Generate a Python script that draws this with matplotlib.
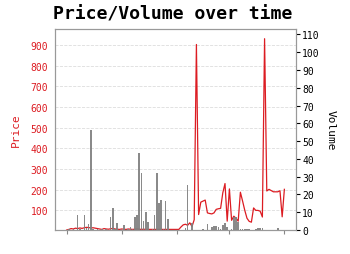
import numpy as np
import matplotlib
matplotlib.use('Agg')
import matplotlib.pyplot as plt

plt.rcParams['font.family'] = ['DejaVu Sans Mono']

price = [5, 8, 12, 10, 14, 12, 15, 13, 16, 18,
         17, 15, 16, 14, 12, 10, 8, 12, 10, 9,
         11, 13, 10, 9, 8, 10, 9, 8, 10, 9,
         8, 9, 10, 9, 8, 9, 8, 8, 8, 8,
         8, 8, 8, 8, 8, 8, 8, 8, 8, 8,
         8, 8, 20, 30, 33, 28, 40, 22, 55, 903,
         80, 140, 145, 150, 88, 85, 83, 88, 105, 108,
         110, 185, 230, 48, 204, 52, 72, 62, 48, 188,
         145, 100, 62, 47, 43, 112, 100, 100, 96, 68,
         931, 194, 202, 196, 190, 190, 190, 195, 69, 202]

volume = [0, 0.5, 0, 0.5, 0, 8.5, 0.5, 0, 8.5, 1,
          3.6, 56.5, 0.5, 0, 0.5, 0, 0.3, 0, 0.5, 0,
          7.3, 12.4, 0.5, 4.1, 0, 0.5, 2.6, 0, 0.5, 1.5,
          0.5, 7.3, 8.7, 43.3, 32.2, 4.9, 10.2, 4.5, 0, 0.5,
          8.3, 32.2, 15.3, 17.1, 0.5, 16.2, 6.4, 0, 0, 0,
          0, 0, 0, 0, 1, 25.6, 0, 4, 0, 0,
          0, 0, 0.5, 0, 3.4, 0, 1.8, 2.2, 2.2, 1.5,
          0.5, 2.6, 4, 1.5, 0, 0.5, 7.3, 7.5, 4.5, 0.5,
          0.7, 0.7, 0.5, 0.7, 0, 0, 0.5, 1, 1, 1,
          0, 0, 0, 0, 0, 0, 1.3, 0, 0, 0]

x = np.arange(len(price))
red = '#dc1c22'

fig = plt.figure(figsize=(3.5, 2.55), dpi=100)
ax = fig.add_axes([0.157, 0.094, 0.689, 0.788])
ax.plot(x, price, color=red, lw=0.9)
ax.set_ylim(min(price), max(price) * 1.05)
ax.set_yticks(range(100, 1000, 100))
ax.set_ylabel('Price', color=red, fontsize=8, labelpad=7)
ax.tick_params(axis='y', colors=red, labelsize=7, length=0, pad=5)
ax.set_xticks([0, 25, 50, 74, 99])
ax.set_xticklabels([])
ax.tick_params(axis='x', colors='#888888', length=3)
ax.grid(axis='y', ls='--', color='#dddddd', lw=0.6)
for s in ax.spines.values():
    s.set_color('#999999')

ax2 = ax.twinx()
ax2.bar(x, volume, width=0.7, color='#808080', alpha=0.92)
ax2.set_ylim(0, max(volume) * 2)
ax2.set_yticks(range(0, 120, 10))
ax2.tick_params(axis='y', labelsize=7, length=3, pad=1.5, colors='black')
ax2.set_ylabel('Volume', fontsize=8, rotation=270, labelpad=11)
for s in ax2.spines.values():
    s.set_color('#999999')

fig.text(53 / 350, 1 - 20 / 255, 'Price/Volume over time', fontsize=13.1,
         fontweight='bold', ha='left', va='baseline')

fig.savefig('out.png', dpi=100)
